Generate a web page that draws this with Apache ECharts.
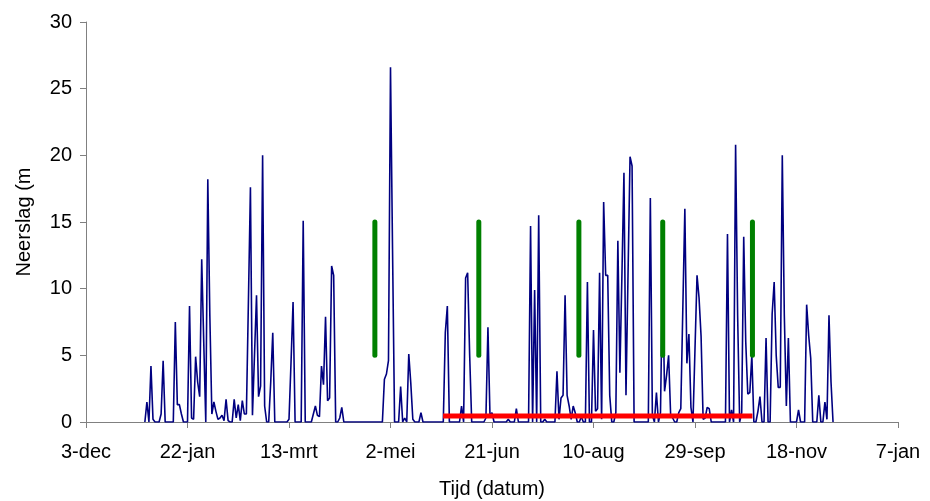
<!DOCTYPE html>
<html>
<head>
<meta charset="utf-8">
<script src="https://cdn.jsdelivr.net/npm/echarts@6/dist/echarts.min.js"></script>
<style>
html,body{margin:0;padding:0;background:#fff;}
#chart{width:930px;height:501px;}
</style>
</head>
<body>
<div id="chart"></div>
<script>
// x axis: days counted from 3-dec, ticks every 50 days
const xTickLabels = ['3-dec','22-jan','13-mrt','2-mei','21-jun','10-aug','29-sep','18-nov','7-jan'];
const yTicks = [0, 5, 10, 15, 20, 25, 30];
// daily precipitation, first value is day 29 (1-jan)
const rainStartDay = 29;
const rain = [
  0,1.5,0,4.2,0.2,0,0,0,0.6,4.6,
  0,0,0,0,0,7.5,1.3,1.3,0.6,0,
  0,0,8.7,0.3,0.2,4.9,3.0,1.9,12.2,6.0,
  0,18.2,8.0,0.6,1.5,0.8,0.2,0.3,0.5,0.1,
  1.7,0.1,0,0,1.7,0.3,1.3,0.1,1.6,0.6,
  0.6,9.0,17.6,0.5,5.0,9.5,1.9,2.7,20.0,1.2,
  0,0,3.0,6.7,0,0,0,0,0,0,
  0,0.2,4.5,9.0,0,0,0,0,15.1,0,
  0,0,0,0.6,1.2,0.5,0.4,4.2,2.8,7.9,
  1.6,1.8,11.7,11.0,0,0,0.3,1.1,0,0,
  0,0,0,0,0,0,0,0,0,0,
  0,0,0,0,0,0,0,0,3.2,3.6,
  4.6,26.6,13.0,0,0,0,2.65,0,0.3,0,
  5.1,2.9,0.2,0,0,0,0.7,0,0,0,
  0,0,0,0,0,0,0,0,6.7,8.7,
  0,0,0,0,0,0,1.2,0,10.8,11.2,
  5.0,0,0,0,0,0,0,0,0.3,7.1,
  0.5,0.7,0,0,0,0,0,0,0,0.2,
  0,0,0,1.0,0,0,0,0,0,0,
  14.7,0,9.9,0,15.5,0,0,0.2,0,0,
  0,0,0,3.8,0.2,1.8,2.0,9.5,2.0,1.2,
  0.2,1.2,0.7,0,0,0.4,0,0,10.5,0,
  0,6.9,0.8,1.0,11.2,0.2,16.5,11.0,11.0,2.0,
  0,0,0.7,13.6,3.7,11.0,18.7,2.0,11.0,19.9,
  19.2,0,0,0,0,0,0,0,0,16.8,
  0.5,0,2.2,0,0.7,11.0,2.3,3.5,5.0,0.5,
  0.3,0,0,0.7,1.0,8.5,16.0,4.4,6.6,1.1,
  0,5.5,11.0,9.3,6.4,0.2,0.3,1.1,1.0,0,
  0,0,0,0,0,0,0,14.1,0,0.9,
  0,20.8,8.0,0,0.7,13.9,6.0,2.1,2.2,5.0,
  0,0,0.8,1.9,0,0,6.3,0,0,8.1,
  10.5,5.0,2.6,2.6,20.0,8.0,1.2,6.3,0,0,
  0,0,0.9,0,0,0,8.8,6.5,4.8,0,
  0,0,2.0,0,0,1.5,0.2,8.0,3.0,0
];
// green vertical markers (day numbers) spanning markerRange
const markerDays = [142.3, 193.5, 242.8, 284.1, 328.3];
const markerRange = [5, 15];
// red horizontal period line
const periodDays = [175.9, 328.3];
const periodLevel = 0.45;

const FONT = "'Liberation Sans', Arial, sans-serif";
const chart = echarts.init(document.getElementById('chart'), null, {renderer: 'canvas'});

const rainData = rain.map((v, i) => [rainStartDay + i, v]);
const series = [{
  type: 'line',
  data: rainData,
  symbol: 'none',
  lineStyle: {color: '#000080', width: 1.6},
  z: 2
}];
markerDays.forEach(d => {
  series.push({
    type: 'line',
    data: [[d, markerRange[0]], [d, markerRange[1]]],
    symbol: 'none',
    lineStyle: {color: '#008000', width: 5, cap: 'round'},
    z: 4
  });
});
series.push({
  type: 'line',
  data: [[periodDays[0], periodLevel], [periodDays[1], periodLevel]],
  symbol: 'none',
  lineStyle: {color: '#ff0000', width: 5, cap: 'butt'},
  z: 3
});

chart.setOption({
  animation: false,
  backgroundColor: '#ffffff',
  grid: {left: 86, right: 32, top: 22, bottom: 79, containLabel: false, outerBoundsMode: 'none'},
  xAxis: {
    type: 'value',
    min: 0,
    max: (xTickLabels.length - 1) * 50,
    interval: 50,
    name: 'Tijd (datum)',
    nameLocation: 'middle',
    nameGap: 57,
    nameTextStyle: {fontFamily: FONT, fontSize: 20, color: '#000'},
    axisLine: {show: true, onZero: false, lineStyle: {color: '#808080', width: 1}},
    axisTick: {show: true, inside: false, length: 6, lineStyle: {color: '#808080'}},
    axisLabel: {
      margin: 20,
      fontFamily: FONT, fontSize: 20, color: '#000',
      formatter: v => xTickLabels[Math.round(v / 50)]
    },
    splitLine: {show: false}
  },
  yAxis: {
    type: 'value',
    min: yTicks[0],
    max: yTicks[yTicks.length - 1],
    interval: 5,
    name: 'Neerslag (m',
    nameLocation: 'middle',
    nameRotate: 90,
    nameGap: 52,
    nameTextStyle: {fontFamily: FONT, fontSize: 20, color: '#000'},
    axisLine: {show: true, lineStyle: {color: '#808080', width: 1}},
    axisTick: {show: true, inside: false, length: 6, lineStyle: {color: '#808080'}},
    axisLabel: {margin: 14, fontFamily: FONT, fontSize: 20, color: '#000'},
    splitLine: {show: false}
  },
  series: series
});
</script>
</body>
</html>
